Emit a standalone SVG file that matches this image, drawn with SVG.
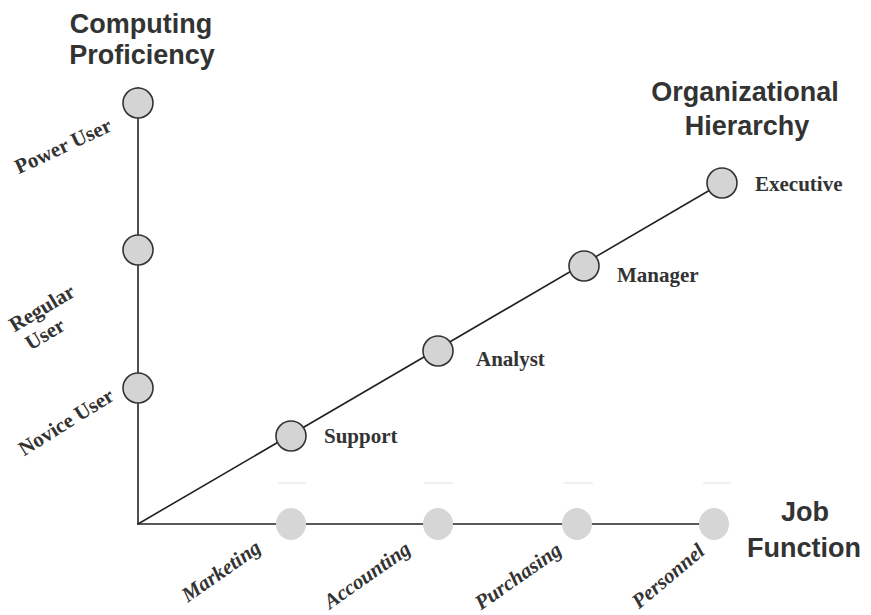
<svg xmlns="http://www.w3.org/2000/svg" width="871" height="615" viewBox="0 0 871 615">
<style>
.title{font-family:"Liberation Sans",Arial,sans-serif;font-weight:bold;font-size:27px;fill:#333;text-anchor:middle}
.lbl{font-family:"Liberation Serif","Times New Roman",serif;font-weight:bold;font-size:21px;fill:#333}
.ital{font-style:italic}
.axis{stroke:#222;stroke-width:1.6;fill:none}
.node{fill:#d4d4d4;stroke:#333;stroke-width:1.6}
.job{fill:#d6d6d6;stroke:none}
.faint{stroke:#e6e6e6;stroke-width:1.2}
</style>
<rect width="871" height="615" fill="#fff"/>
<g id="connectors">
<line class="axis" x1="138" y1="87" x2="138" y2="524"/>
<line class="axis" x1="137" y1="524" x2="727" y2="524" stroke-width="2"/>
<line class="axis" x1="138" y1="524" x2="722" y2="183"/>
<line class="faint" x1="278" y1="483" x2="306" y2="483"/>
<line class="faint" x1="424" y1="483" x2="453" y2="483"/>
<line class="faint" x1="564" y1="483" x2="593" y2="483"/>
<line class="faint" x1="703" y1="483" x2="731" y2="483"/>
</g>
<g id="titles">
<text class="title" x="141" y="33" font-size="28">Computing</text>
<text class="title" x="142" y="64" font-size="28">Proficiency</text>
<text class="title" x="745" y="101" font-size="26">Organizational</text>
<text class="title" x="747" y="135" font-size="26">Hierarchy</text>
<text class="title" x="805" y="521">Job</text>
<text class="title" x="804" y="557">Function</text>
</g>
<g id="power-user"><circle class="node" cx="138" cy="103" r="15"/><text class="lbl" transform="translate(63,146) rotate(-25)" text-anchor="middle" dy="7">Power User</text></g>
<g id="regular-user"><circle class="node" cx="138" cy="250" r="15"/><text class="lbl" transform="translate(42,308) rotate(-31)" text-anchor="middle" dy="7">Regular</text><text class="lbl" transform="translate(45,334) rotate(-31)" text-anchor="middle" dy="7">User</text></g>
<g id="novice-user"><circle class="node" cx="138" cy="388" r="15"/><text class="lbl" transform="translate(66,422) rotate(-32)" text-anchor="middle" dy="7">Novice User</text></g>
<g id="support"><circle class="node" cx="291" cy="436" r="15"/><text class="lbl" x="324" y="443">Support</text></g>
<g id="analyst"><circle class="node" cx="438" cy="351" r="15"/><text class="lbl" x="476" y="366">Analyst</text></g>
<g id="manager"><circle class="node" cx="584" cy="266" r="15"/><text class="lbl" x="617" y="282">Manager</text></g>
<g id="executive"><circle class="node" cx="722" cy="183" r="15"/><text class="lbl" x="755" y="191">Executive</text></g>
<g id="marketing"><ellipse class="job" cx="291" cy="524" rx="15" ry="16"/><text class="lbl ital" transform="translate(221,571) rotate(-35)" text-anchor="middle" dy="7">Marketing</text></g>
<g id="accounting"><ellipse class="job" cx="438" cy="524" rx="15" ry="16"/><text class="lbl ital" transform="translate(367,575) rotate(-35)" text-anchor="middle" dy="7">Accounting</text></g>
<g id="purchasing"><ellipse class="job" cx="577" cy="524" rx="15" ry="16"/><text class="lbl ital" transform="translate(518,576) rotate(-35)" text-anchor="middle" dy="7">Purchasing</text></g>
<g id="personnel"><ellipse class="job" cx="714" cy="524" rx="15" ry="16"/><text class="lbl ital" transform="translate(668,576) rotate(-40)" text-anchor="middle" dy="7">Personnel</text></g>
</svg>
